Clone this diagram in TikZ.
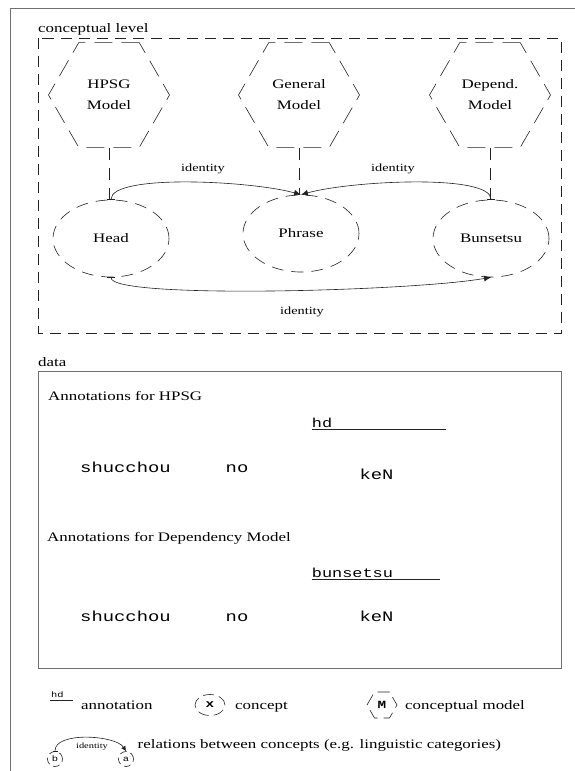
\documentclass[tikz,border=0pt]{standalone}
\usepackage{fontspec}
\setmainfont[FakeStretch=1.3]{Liberation Serif}
\newfontfamily\monofnt[FakeStretch=1.3]{Liberation Mono}
\usetikzlibrary{shapes.geometric,arrows.meta}
\definecolor{framec}{HTML}{707070}
\definecolor{ink}{HTML}{222222}
\tikzset{
  hexmodel/.style={regular polygon, regular polygon sides=6, minimum size=121pt,
    draw=ink, dash pattern=on 18pt off 9pt, line width=0.6pt, align=center,
    font=\fontsize{13}{21}\selectfont, inner sep=0pt},
  concept/.style={ellipse, minimum width=116pt, minimum height=77pt, draw=ink,
    dash pattern=on 12pt off 8pt, line width=0.6pt, font=\fontsize{13}{15}\selectfont},
  vlink/.style={draw=ink, dash pattern=on 12pt off 8pt, line width=0.6pt},
  rel/.style={draw=ink, line width=0.6pt, arrows={Bar[width=8pt]-Latex[length=7pt,width=6pt]}},
  lbl/.style={font=\fontsize{11}{13}\selectfont, inner sep=0pt},
  txt/.style={font=\fontsize{13}{15}\selectfont, anchor=base west, inner sep=0pt},
  word/.style={font=\monofnt\fontsize{14.5}{16}\selectfont, anchor=base west, inner sep=0pt},
  ann/.style={font=\monofnt\fontsize{13}{15}\selectfont, anchor=base west, inner sep=0pt},
  framel/.style={draw=framec, line width=0.8pt},
}
\begin{document}
\begin{tikzpicture}[x=1pt,y=-1pt]
\useasboundingbox (0,0) rectangle (575,771);
% outer frame
\draw[framel] (10,771) -- (10,8) -- (575,8);
% conceptual level
\node[txt] (cl) at (38,32) {conceptual level};
\draw[draw=ink, line width=0.6pt, dash pattern=on 11pt off 7pt] (38.5,38) rectangle (561,333);
\node[hexmodel] (hpsg) at (109,95) {HPSG\\Model};
\node[hexmodel] (gen) at (299,95) {General\\Model};
\node[hexmodel] (dep) at (490,95) {Depend.\\Model};
\node[concept] (head) at (111,238.5) {Head};
\node[concept] (phrase) at (301,233.5) {Phrase};
\node[concept] (bun) at (491,238.5) {Bunsetsu};
\draw[vlink] (hpsg.south) -- (hpsg.south |- head.north);
\draw[vlink] (gen.south) -- (gen.south |- phrase.north);
\draw[vlink] (dep.south) -- (dep.south |- bun.north);
\draw[rel] (head.north) .. controls +(0,-26) and +(-50,-14) .. (phrase.north);
\draw[rel] (bun.north) .. controls +(0,-26) and +(50,-14) .. (phrase.north);
\draw[rel] (head.south) .. controls +(0,22) and +(-80,14) .. (bun.south);
\node[lbl] (id1) at (203,169) {identity};
\node[lbl] (id2) at (393,169) {identity};
\node[lbl] (id3) at (302,312) {identity};
% data
\node[txt] (data) at (38,366) {data};
\draw[framel] (38.5,371) rectangle (561,668);
\node[txt] (a1) at (48,400.5) {Annotations for HPSG};
\node[ann] (hd) at (311.7,427) {hd};
\draw[draw=ink, line width=0.6pt] (hd.base west) ++(0,2.5) -- (445.5,429.5);
\node[word] (s1) at (80,472.7) {shucchou};
\node[word] (n1) at (225.5,472.7) {no};
\node[word] (k1) at (359.4,479.3) {keN};
\node[txt] (a2) at (47,541.7) {Annotations for Dependency Model};
\node[ann] (bs) at (311.7,577) {bunsetsu};
\draw[draw=ink, line width=0.6pt] (bs.base west) ++(0,2.5) -- (440,579.5);
\node[word] (s2) at (80,621.7) {shucchou};
\node[word] (n2) at (225.5,621.7) {no};
\node[word] (k2) at (359.4,621.7) {keN};
% legend
\node[font=\monofnt\fontsize{8}{9}\selectfont, anchor=base west, inner sep=0pt] (lhd) at (51,697) {hd};
\draw[draw=ink, line width=0.6pt] (lhd.base west) ++(-1,3) -- (73,700);
\node[txt] (lann) at (81,709) {annotation};
\node[ellipse, draw=ink, line width=0.6pt, dash pattern=on 11pt off 5pt, minimum width=30pt, minimum height=21pt, inner sep=0pt,
  font=\monofnt\bfseries\fontsize{11}{12}\selectfont] (lx) at (210,705) {x};
\node[txt] (lcon) at (235,709) {concept};
\node[regular polygon, regular polygon sides=6, minimum size=30pt, draw=ink, line width=0.6pt,
  dash pattern=on 12pt off 6pt, inner sep=0pt, font=\monofnt\bfseries\fontsize{11}{12}\selectfont] (lm) at (382,705) {M};
\node[txt] (lmod) at (405,709) {conceptual model};
\node[circle, draw=ink, line width=0.6pt, dash pattern=on 7pt off 4pt, minimum size=15pt, inner sep=0pt,
  font=\monofnt\fontsize{8}{9}\selectfont] (lb) at (55,759) {b};
\node[circle, draw=ink, line width=0.6pt, dash pattern=on 7pt off 4pt, minimum size=15pt, inner sep=0pt,
  font=\monofnt\fontsize{8}{9}\selectfont] (la) at (126,759) {a};
\draw[draw=ink, line width=0.6pt, arrows={Bar[width=5pt]-Latex[length=5pt,width=5pt]}]
  (lb.north) .. controls +(0,-20) and +(-10,-16) .. (la.north);
\node[font=\fontsize{8}{9}\selectfont, inner sep=0pt] (lid) at (92,747) {identity};
\node[txt] (lrel) at (137.5,748) {relations between concepts (e.g. linguistic categories)};
\end{tikzpicture}
\end{document}
